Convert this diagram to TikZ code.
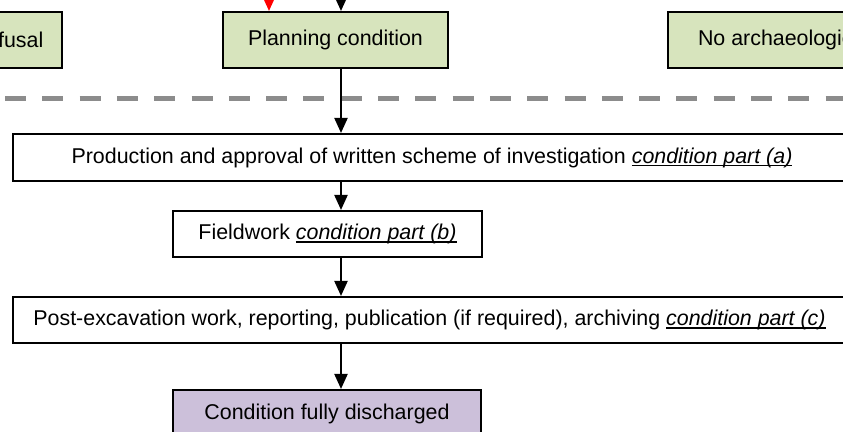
\documentclass[tikz,border=0pt]{standalone}
\usepackage{fontspec}
\setmainfont{Liberation Sans}
\usepackage{xcolor}
\usetikzlibrary{arrows.meta, positioning}

\newsavebox{\condbox}
\newcommand{\condpart}[1]{\sbox{\condbox}{\textit{condition part #1}}\rlap{\rule[-1.7pt]{\wd\condbox}{0.9pt}}\usebox{\condbox}}
\definecolor{planfill}{RGB}{215,228,189}
\definecolor{donefill}{RGB}{204,192,218}
\definecolor{dashgray}{RGB}{140,140,140}

\begin{document}
\begin{tikzpicture}[x=0.5pt, y=-0.5pt,
    box/.style={draw, line width=1pt, inner sep=0pt, align=center, font=\fontsize{10.7}{13}\selectfont},
    decision/.style={box, fill=planfill, minimum height=28pt},
    stage/.style={box, fill=white, minimum height=23.5pt},
    arr/.style={-{Triangle[width=6.5pt, length=7.5pt]}, line width=1pt}]
    \clip (0,0) rectangle (843,432);

    % Decisions
    \node[decision, minimum width=55pt] (refusal) at (7,40) {Refusal};
    \node[decision, minimum width=112.5pt] (planning) at (335.5,40) {Planning condition};
    \node[decision, anchor=west, inner xsep=15pt] (noarch) at (667,40) {No archaeological condition};

    % Incoming arrows
    \coordinate (spine) at (341,-30);
    \coordinate (redin) at (269,-30);
    \draw[arr, red] (redin) -- (planning.north -| redin);
    \draw[arr] (spine) -- (planning.north -| spine);

    % Divider
    \draw[dashgray, line width=2.5pt, dash pattern=on 10.5pt off 8.15pt] (5,99) -- (860,99);

    % Condition stages
    \node[stage, minimum width=419pt] (scheme) at (432,157.5)
        {Production and approval of written scheme of investigation \condpart{(a)}};
    \node[stage, minimum width=154.5pt, minimum height=23pt] (fieldwork) at (327.5,234)
        {Fieldwork \condpart{(b)}};
    \node[stage, minimum width=416.5pt, minimum height=23pt] (postex) at (429.5,320)
        {Post-excavation work, reporting, publication (if required), archiving \condpart{(c)}};
    \node[box, fill=donefill, minimum width=154pt, minimum height=24pt] (discharged) at (327,414)
        {Condition fully discharged};

    % Flow
    \draw[arr] (planning.south -| spine) -- (scheme.north -| spine);
    \draw[arr] (scheme.south -| spine) -- (fieldwork.north -| spine);
    \draw[arr] (fieldwork.south -| spine) -- (postex.north -| spine);
    \draw[arr] (postex.south -| spine) -- (discharged.north -| spine);
\end{tikzpicture}
\end{document}
